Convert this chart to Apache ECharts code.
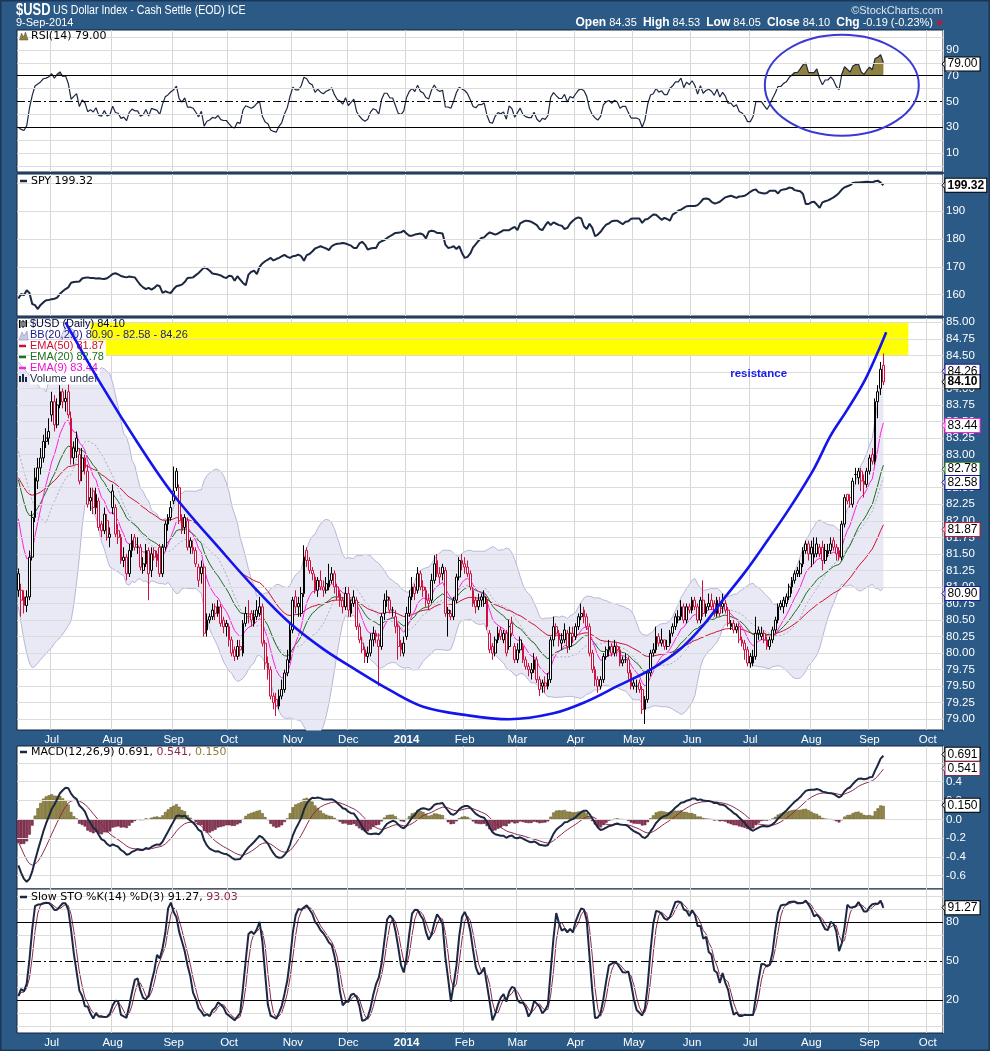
<!DOCTYPE html>
<html><head><meta charset="utf-8">
<script src="https://cdn.jsdelivr.net/npm/echarts@6/dist/echarts.min.js"></script>
<style>html,body{margin:0;padding:0;background:#2b5a86;}#c{width:990px;height:1051px;}</style>
</head><body><div id="c"></div>
<script>
// ---------- DATA ----------
const holidays = ['2013-07-04','2013-09-02','2013-11-28','2013-12-25','2014-01-01','2014-01-20','2014-02-17','2014-04-18','2014-05-26','2014-07-04','2014-09-01'];
const monthNames = ['Jan','Feb','Mar','Apr','May','Jun','Jul','Aug','Sep','Oct','Nov','Dec'];

const usdOpen = [81.20,80.95,80.85,80.72,80.85,81.45,82.05,82.60,82.80,82.95,
83.20,83.25,83.80,83.80,83.45,83.75,83.95,83.80,83.95,83.55,
82.95,83.05,83.00,82.75,82.95,82.75,82.30,82.45,82.20,82.30,
81.95,81.85,82.00,81.75,82.45,82.20,81.85,81.75,81.40,81.45,
81.20,81.55,81.75,81.60,81.60,81.25,81.35,81.55,81.25,81.55,
81.50,81.60,81.20,81.60,81.95,82.05,82.45,82.75,82.50,82.05,
81.90,82.00,81.70,81.60,81.55,81.30,81.20,81.30,80.35,80.50,
80.55,80.70,80.60,80.70,80.50,80.45,80.40,80.20,80.05,79.95,
80.10,80.00,80.45,80.55,80.60,80.45,80.55,80.60,80.70,80.15,
79.85,79.75,79.35,79.30,79.20,79.35,79.45,79.70,79.90,80.35,
80.85,80.75,80.60,80.90,81.55,81.40,81.25,81.15,80.95,81.10,
81.00,80.95,81.00,81.10,81.20,81.00,80.90,80.80,80.70,80.90,
80.60,80.75,80.80,80.40,80.15,80.05,79.95,80.00,80.20,80.30,
80.20,80.10,80.60,80.85,80.80,80.65,80.55,80.40,80.15,80.00,
80.25,80.60,80.85,81.00,80.95,81.20,81.00,80.95,80.80,80.80,
81.10,81.40,81.20,81.30,81.25,80.65,80.60,80.55,80.80,81.15,
81.40,81.35,81.30,81.20,80.95,80.80,80.70,80.85,80.75,80.80,
80.30,80.10,80.00,80.20,80.35,80.20,80.30,80.10,80.45,80.10,
79.90,80.05,80.10,79.90,79.80,79.70,79.75,79.90,79.60,79.50,
79.55,79.50,79.60,80.20,80.40,80.30,80.15,80.20,80.30,80.10,
80.30,80.25,80.40,80.55,80.65,80.55,80.40,80.00,79.75,79.60,
79.50,79.60,79.95,80.05,80.10,80.00,80.10,80.05,79.85,79.90,
79.90,79.70,79.55,79.50,79.55,79.45,79.15,79.30,79.70,80.00,
80.05,80.25,80.15,80.20,80.10,80.15,80.30,80.40,80.50,80.55,
80.70,80.50,80.70,80.65,80.80,80.70,80.50,80.80,80.60,80.70,
80.80,80.75,80.60,80.75,80.70,80.75,80.65,80.40,80.45,80.35,
80.40,80.20,80.15,80.05,79.95,79.85,79.95,80.35,80.25,80.30,
80.20,80.10,80.20,80.35,80.50,80.75,80.70,80.75,80.85,81.00,
81.10,81.25,81.20,81.35,81.55,81.65,81.60,81.45,81.50,81.60,
81.60,81.40,81.50,81.55,81.70,81.60,81.55,81.45,81.95,82.40,
82.35,82.25,82.70,82.65,82.75,82.60,82.55,82.75,83.00,82.90,
83.80,84.00,84.35];
const usdHigh = [81.28,81.05,80.95,80.95,81.55,82.15,82.80,82.95,83.10,83.30,
83.40,83.55,83.95,83.90,83.85,84.05,84.00,83.98,84.07,83.65,
83.20,83.35,83.10,83.10,83.00,82.85,82.50,82.50,82.50,82.35,
82.00,82.20,82.10,81.90,82.55,82.25,81.95,81.80,81.60,81.50,
81.65,81.80,81.80,81.75,81.65,81.45,81.65,81.60,81.60,81.60,
81.55,81.65,81.65,82.00,82.10,82.30,82.82,82.80,82.55,82.10,
82.10,82.05,81.75,81.70,81.60,81.35,81.40,81.35,80.60,80.60,
80.75,80.75,80.80,80.75,80.55,80.50,80.45,80.25,80.10,80.20,
80.20,80.50,80.70,80.80,80.65,80.65,80.80,80.85,80.75,80.20,
79.95,79.80,79.40,79.40,79.45,79.60,79.75,80.05,80.45,80.85,
80.95,80.85,81.00,81.63,81.60,81.45,81.30,81.20,81.15,81.25,
81.10,81.15,81.35,81.30,81.25,81.05,80.95,80.85,81.00,81.00,
80.80,80.95,80.85,80.45,80.25,80.10,80.10,80.30,80.40,80.35,
80.30,80.60,80.90,80.95,80.85,80.70,80.65,80.45,80.20,80.25,
80.70,80.95,81.15,81.05,81.30,81.25,81.10,81.00,80.90,81.20,
81.48,81.50,81.30,81.35,81.30,80.70,80.65,80.85,81.20,81.45,
81.50,81.45,81.40,81.25,81.00,80.85,80.90,80.90,80.95,80.85,
80.35,80.15,80.25,80.40,80.40,80.35,80.35,80.50,80.55,80.15,
80.15,80.25,80.15,79.95,79.85,79.85,80.00,79.95,79.65,79.60,
79.65,79.70,80.25,80.55,80.45,80.35,80.30,80.45,80.35,80.40,
80.40,80.45,80.60,80.75,80.70,80.60,80.45,80.05,79.80,79.65,
79.65,80.00,80.10,80.20,80.15,80.20,80.15,80.10,79.95,80.00,
79.95,79.75,79.60,79.60,79.60,79.50,79.35,79.75,80.05,80.15,
80.40,80.30,80.37,80.20,80.20,80.35,80.45,80.60,80.65,80.80,
80.75,80.75,80.75,80.85,80.85,80.75,80.85,81.10,80.75,80.90,
80.90,80.80,80.85,80.85,80.90,80.80,80.70,80.50,80.50,80.45,
80.45,80.25,80.20,80.10,80.00,80.05,80.55,80.40,80.40,80.35,
80.25,80.25,80.40,80.55,80.75,80.80,80.85,80.90,81.05,81.15,
81.25,81.30,81.40,81.60,81.70,81.70,81.70,81.75,81.75,81.65,
81.70,81.65,81.65,81.75,81.75,81.65,81.60,82.00,82.40,82.40,
82.40,82.65,82.80,82.80,82.80,82.70,82.80,83.00,83.10,83.85,
84.05,84.40,84.53];
const usdLow = [80.85,80.55,80.60,80.62,80.80,81.40,81.98,82.48,82.70,82.88,
83.10,83.15,83.50,83.35,83.40,83.70,83.70,83.65,83.55,82.85,
82.85,82.95,82.55,82.60,82.70,82.20,82.15,82.10,82.10,81.85,
81.75,81.80,81.70,81.60,82.10,81.75,81.65,81.35,81.30,81.10,
81.15,81.45,81.55,81.50,81.25,81.20,81.30,80.80,81.15,81.40,
81.30,81.15,81.15,81.55,81.85,82.00,82.25,82.45,81.95,81.80,
81.80,81.55,81.50,81.50,81.30,81.00,81.05,80.25,80.25,80.45,
80.50,80.50,80.55,80.40,80.30,80.25,80.10,79.95,79.88,79.90,
79.95,79.95,80.40,80.45,80.40,80.40,80.50,80.55,80.10,79.75,
79.60,79.30,79.15,79.05,79.15,79.30,79.40,79.65,79.85,80.30,
80.60,80.55,80.55,80.85,81.30,81.20,81.10,80.90,80.85,80.95,
80.85,80.90,80.95,81.05,80.90,80.80,80.70,80.60,80.65,80.55,
80.55,80.70,80.35,80.15,80.00,79.85,79.85,79.95,80.10,80.15,
79.50,80.05,80.50,80.70,80.60,80.55,80.30,79.90,79.95,79.95,
80.20,80.55,80.80,80.80,80.90,80.95,80.85,80.70,80.65,80.75,
81.05,81.15,81.05,81.10,80.55,80.25,80.50,80.50,80.75,81.10,
81.25,81.20,81.15,80.95,80.70,80.60,80.65,80.70,80.70,80.35,
80.00,79.90,79.95,80.15,80.20,80.15,79.95,80.05,80.25,79.85,
79.85,80.00,79.85,79.75,79.65,79.60,79.70,79.55,79.35,79.40,
79.40,79.45,79.55,80.10,80.25,80.10,80.05,80.15,80.00,80.05,
80.15,80.20,80.35,80.50,80.45,80.35,79.95,79.70,79.50,79.40,
79.45,79.55,79.90,79.95,79.95,79.95,79.95,79.80,79.80,79.85,
79.60,79.45,79.45,79.40,79.40,79.08,78.93,79.25,79.65,79.95,
80.00,80.10,80.10,80.05,80.05,80.10,80.25,80.35,80.45,80.50,
80.45,80.45,80.60,80.60,80.65,80.45,80.45,80.55,80.55,80.65,
80.65,80.55,80.55,80.55,80.60,80.60,80.40,80.35,80.30,80.30,
80.15,80.10,79.90,79.80,79.78,79.80,79.90,80.20,80.20,80.15,
80.05,80.05,80.15,80.30,80.45,80.65,80.60,80.70,80.80,80.90,
81.05,81.15,81.15,81.30,81.50,81.40,81.30,81.35,81.45,81.45,
81.25,81.35,81.45,81.50,81.55,81.40,81.40,81.40,81.90,82.25,
82.20,82.20,82.55,82.55,82.45,82.35,82.50,82.70,82.85,82.85,
83.55,83.90,84.05];
const usdClose = [80.95,80.80,80.72,80.85,81.45,82.05,82.65,82.80,82.95,83.20,
83.25,83.35,83.60,83.45,83.75,83.95,83.80,83.85,83.60,82.95,
83.10,83.25,82.60,82.95,82.80,82.25,82.35,82.20,82.40,81.90,
81.85,82.10,81.75,81.80,82.20,81.80,81.75,81.40,81.45,81.20,
81.55,81.70,81.60,81.60,81.30,81.35,81.55,81.20,81.50,81.45,
81.40,81.20,81.60,81.95,82.05,82.20,82.30,82.50,82.00,81.85,
82.05,81.60,81.60,81.55,81.35,81.10,81.30,80.30,80.50,80.55,
80.65,80.60,80.70,80.45,80.40,80.40,80.20,80.00,79.95,80.10,
80.05,80.45,80.60,80.55,80.50,80.55,80.65,80.70,80.15,79.85,
79.75,79.35,79.25,79.20,79.35,79.45,79.70,79.90,80.35,80.80,
80.70,80.70,80.90,81.45,81.40,81.25,81.20,80.95,81.10,81.00,
80.95,81.05,81.10,81.20,81.00,80.85,80.80,80.70,80.90,80.65,
80.75,80.85,80.40,80.20,80.05,79.95,80.00,80.20,80.30,80.25,
80.10,80.55,80.80,80.80,80.65,80.65,80.40,80.10,80.05,80.15,
80.60,80.85,81.00,80.90,81.20,81.00,80.95,80.80,80.75,81.10,
81.35,81.20,81.15,81.20,80.60,80.60,80.55,80.80,81.15,81.40,
81.35,81.30,81.20,81.00,80.75,80.70,80.80,80.80,80.85,80.40,
80.05,80.00,80.20,80.30,80.25,80.30,80.00,80.40,80.30,79.90,
80.05,80.20,79.90,79.80,79.75,79.75,79.90,79.60,79.45,79.55,
79.50,79.60,80.20,80.40,80.30,80.20,80.20,80.35,80.10,80.30,
80.25,80.40,80.55,80.60,80.55,80.40,80.00,79.75,79.60,79.50,
79.60,79.95,80.05,80.10,80.00,80.10,80.05,79.85,79.90,79.90,
79.70,79.50,79.50,79.50,79.45,79.15,79.30,79.70,80.00,80.05,
80.25,80.15,80.20,80.10,80.10,80.30,80.40,80.55,80.55,80.70,
80.50,80.70,80.65,80.80,80.70,80.50,80.80,80.60,80.70,80.75,
80.70,80.60,80.80,80.60,80.75,80.65,80.45,80.45,80.35,80.40,
80.20,80.15,80.05,79.85,79.85,79.95,80.30,80.30,80.30,80.20,
80.10,80.20,80.35,80.50,80.70,80.70,80.80,80.85,81.00,81.10,
81.20,81.20,81.35,81.55,81.65,81.50,81.50,81.50,81.65,81.50,
81.40,81.55,81.55,81.65,81.60,81.50,81.45,81.95,82.35,82.30,
82.25,82.60,82.70,82.75,82.60,82.55,82.75,82.95,82.90,83.80,
83.95,84.29,84.10];
const spyClose = [158.6,160.2,159.8,161.6,160.6,156.6,156.2,154.8,156.3,157.2,
158.0,158.1,158.3,158.5,158.9,160.3,161.2,162.0,162.6,164.3,
164.5,164.6,164.7,165.8,166.1,166.2,166.0,166.0,165.8,165.9,
165.7,165.6,165.9,166.6,167.4,167.7,167.3,166.7,166.4,166.2,
166.5,166.3,166.2,164.8,163.5,162.6,162.0,162.4,161.8,162.4,
163.4,163.0,160.6,161.2,160.8,160.6,162.0,163.0,163.3,163.6,
164.5,166.0,166.1,166.2,167.0,167.8,168.8,169.8,169.4,168.6,
167.6,167.4,167.2,166.9,166.3,166.0,166.8,166.6,165.0,166.6,
165.4,164.2,163.4,167.2,168.2,168.6,167.4,170.0,171.2,172.0,
172.6,173.2,172.3,172.8,173.2,173.8,174.3,173.6,173.2,173.8,
174.0,174.4,173.8,172.2,174.2,174.6,175.5,176.6,177.0,177.4,
177.0,176.6,176.0,177.4,178.0,178.3,178.4,178.6,178.4,178.0,
177.6,176.8,176.8,178.4,179.0,178.0,176.2,176.6,176.8,176.8,
178.6,179.2,179.6,180.4,181.0,181.6,182.2,182.3,182.4,183.0,
182.0,181.2,181.2,181.6,181.8,182.0,181.6,180.2,182.6,183.0,
182.8,182.2,182.2,182.0,178.0,176.8,177.0,177.4,176.4,177.4,
175.0,173.2,173.6,174.8,177.0,178.2,179.4,180.4,180.6,181.6,
182.4,182.0,181.6,182.0,182.6,183.2,183.2,183.2,183.8,184.4,
183.2,185.6,186.2,186.6,186.5,186.2,185.6,185.0,183.6,183.2,
184.8,186.2,185.0,186.0,185.5,185.0,184.8,183.6,184.0,185.6,
186.6,187.4,187.8,187.4,184.6,183.6,185.5,184.0,181.0,181.6,
182.6,184.0,185.2,185.6,186.4,186.6,186.6,186.0,185.3,186.2,
186.4,187.3,187.4,187.4,187.4,185.8,187.0,187.2,188.0,188.8,
188.7,187.8,186.9,187.6,187.2,186.6,188.8,189.4,190.2,190.6,
191.2,191.8,191.9,191.9,191.9,192.2,193.2,194.4,194.6,194.4,
193.4,192.8,193.0,193.4,194.2,195.0,195.3,195.6,195.2,194.8,
195.3,195.4,195.6,196.2,197.0,197.6,197.8,196.8,196.6,196.4,
196.6,197.4,197.4,197.4,196.4,197.6,197.8,198.0,198.5,198.4,
197.6,197.4,197.2,196.2,192.6,192.6,193.2,193.4,192.4,191.2,
193.2,193.6,193.9,194.4,195.0,195.7,196.6,197.8,198.6,199.0,
199.4,200.2,200.3,200.3,200.4,200.5,200.6,200.5,200.4,200.8,
201.0,200.3,199.32];

// indicator states at the first visible days
const ema50Start = 82.65, ema20Start = 82.62, ema9Start = 82.03;
const ema12Start = 82.26, ema26Start = 82.75, signalStart = -0.24;
const rsiGainStart = 0.06, rsiLossStart = 0.14;
const bbUpperEarly = [84.4,84.35,84.3,84.25,84.2,84.15,84.1,84.05,84.0,84.0];
const bbMidEarly   = [83.05,82.9,82.75,82.6,82.45,82.3,82.2,82.1,82.05,82.0];
const bbLowerEarly = [80.7,80.45,80.2,80.0,79.85,79.78,79.8,79.85,79.9,79.95];

// hand-drawn "cup" annotation anchor points [day index, price]
const cupPoints = [[17,85.0],[30,84.05],[43,83.18],[56,82.39],[74,81.51],[86,80.95],[98,80.45],[110,80.06],[122,79.74],[134,79.44],[146,79.19],[162,79.06],[177,79.0],[193,79.09],[205,79.27],[216,79.5],[228,79.75],[239,80.07],[247,80.42],[255,80.85],[262,81.22],[269,81.63],[278,82.18],[287,82.79],[293,83.29],[299,83.68],[305,84.10],[310,84.55],[313,84.85]];

// text
const titleMain = '$USD', titleSub = 'US Dollar Index - Cash Settle (EOD) ICE', titleDate = '9-Sep-2014';
const ohlcText = '{b|Open} 84.35  {b|High} 84.53  {b|Low} 84.05  {b|Close} 84.10  {b|Chg} -0.19 (-0.23%)';

// ---------- BUILD ----------
const N = usdClose.length;
const NT = 334;
const dates = [];
{ let t = Date.UTC(2013,5,13);
  while (dates.length < NT) { const d = new Date(t); const wd = d.getUTCDay(); const s = d.toISOString().slice(0,10);
    if (wd !== 0 && wd !== 6 && holidays.indexOf(s) < 0) dates.push(s); t += 86400000; } }
const monthStart = new Set();
for (let i = 1; i < dates.length; i++) if (dates[i].slice(5,7) !== dates[i-1].slice(5,7)) monthStart.add(i);

function pad(a){ const o = a.slice(); while (o.length < NT) o.push(null); return o; }
function emaSeed(arr, n, seed){ const a = 2/(n+1); const o = []; let e = seed; for (let i=0;i<arr.length;i++){ if (i>0) e = e + a*(arr[i]-e); o.push(e);} return o; }
const ema50 = emaSeed(usdClose,50,ema50Start), ema20 = emaSeed(usdClose,20,ema20Start), ema9 = emaSeed(usdClose,9,ema9Start);
const e12 = emaSeed(usdClose,12,ema12Start), e26 = emaSeed(usdClose,26,ema26Start);
const macd = e12.map((v,i)=>v-e26[i]);
const signal = emaSeed(macd,9,signalStart);
const hist = macd.map((v,i)=>v-signal[i]);
const rsi = []; { let g = rsiGainStart, l = rsiLossStart; rsi.push(100-100/(1+g/l));
  for (let i=1;i<N;i++){ const ch = usdClose[i]-usdClose[i-1]; g = (g*13+Math.max(ch,0))/14; l = (l*13+Math.max(-ch,0))/14; rsi.push(100-100/(1+g/l)); } }
const bbMid=[], bbUp=[], bbLo=[];
for (let i=0;i<N;i++){
  if (i < bbUpperEarly.length){ bbMid.push(bbMidEarly[i]); bbUp.push(bbUpperEarly[i]); bbLo.push(bbLowerEarly[i]); continue; }
  const s = Math.max(0,i-19); const w = usdClose.slice(s,i+1); const m = w.reduce((a,b)=>a+b,0)/w.length;
  const sd = Math.sqrt(w.reduce((a,b)=>a+(b-m)*(b-m),0)/w.length); bbMid.push(m); bbUp.push(m+2*sd); bbLo.push(m-2*sd); }
const fastK = []; for (let i=0;i<N;i++){ const s=Math.max(0,i-13); const hh=Math.max(...usdHigh.slice(s,i+1)); const ll=Math.min(...usdLow.slice(s,i+1)); fastK.push(hh>ll?(usdClose[i]-ll)/(hh-ll)*100:50); }
function sma(a,n){ return a.map((v,i)=>{ const w=a.slice(Math.max(0,i-n+1),i+1); return w.reduce((x,y)=>x+y,0)/w.length; }); }
const slowK = sma(fastK,3), slowD = sma(slowK,3);

// ---------- CHART ----------
const chart = echarts.init(document.getElementById('c'), null, {renderer:'canvas'});
const GL = 17, GR = 47;
const grids = [
  {top:30, height:142}, {top:174, height:142}, {top:318, height:412}, {top:746, height:143}, {top:889, height:144}
].map(g=>Object.assign({left:GL, right:GR, show:true, backgroundColor:'#ffffff', borderColor:'#13223f', borderWidth:1}, g));
const yRanges = [[-4.65,105.4],[152.3,203.4],[78.838,85.065],[-0.741,0.78],[-5.15,105.6]];
const FONT = 'Liberation Sans, Arial, sans-serif';
const LEG = 'DejaVu Sans, Verdana, sans-serif';
function xa(gi, showLabel){
  return { type:'category', gridIndex:gi, data:dates, boundaryGap:true,
    axisLine:{show:false}, axisTick:{show:false},
    axisLabel:{show:showLabel, interval:(i)=>monthStart.has(i), margin:4, color:'#ffffff', fontSize:11.5, fontFamily:FONT,
      formatter:(v)=>{ const m=+v.slice(5,7); return m===1 ? '{y|'+v.slice(0,4)+'}' : monthNames[m-1]; },
      rich:{y:{fontWeight:'bold', color:'#ffffff', fontSize:11.5, fontFamily:FONT}} },
    splitLine:{show:true, interval:(i)=>monthStart.has(i), lineStyle:{color:'#d6d6d6', width:1}} };
}
const xAxes = [0,1,2,3,4].map(i=>xa(i, i===2||i===4));
const yAxes = yRanges.map((r,i)=>({type:'value', gridIndex:i, position:'right', min:r[0], max:r[1], scale:true,
  axisLine:{show:false}, axisTick:{show:false}, axisLabel:{show:false}, splitLine:{show:false}}));

const GRIDC = '#dcdcdc';
const dashDot = [8,3,2,3];
function gridSeries(gi, vals, styleFn){
  return {type:'line', xAxisIndex:gi, yAxisIndex:gi, data:[], silent:true, z:1, clip:false,
    markLine:{silent:true, symbol:['none','none'], animation:false, label:{show:false},
      data: vals.map(v=>({yAxis:v, lineStyle:styleFn(v)}))}};
}
const light = {color:GRIDC, width:1, type:'solid'};
const rsiVals=[0,10,20,30,40,50,60,70,80,90,100];
const oscStyle = (v)=> v===70||v===30 ? {color:'#000',width:1,type:'solid'} : v===50 ? {color:'#000',width:1,type:dashDot} : light;
const stoStyle = (v)=> v===80||v===20 ? {color:'#000',width:1,type:'solid'} : v===50 ? {color:'#000',width:1,type:dashDot} : light;
const mainVals=[]; for (let k=0;k<=24;k++) mainVals.push(+(79+k*0.25).toFixed(2));

const candleData = [];
for (let i=0;i<N;i++){
  const up = i===0 || usdClose[i] >= usdClose[i-1];
  const col = up ? '#000000' : '#cc1040';
  candleData.push({value:[usdOpen[i],usdClose[i],usdLow[i],usdHigh[i]],
    itemStyle:{color:'#ffffff', color0:col, borderColor:col, borderColor0:col, borderWidth:1}});
}
const histData = hist.map(v=>({value:v, itemStyle: v>=0 ? {color:'#978a45', borderColor:'#5c5424', borderWidth:0.5} : {color:'#8d3556', borderColor:'#5a1d35', borderWidth:0.5}}));

const lineS = (gi, data, color, width, extra)=>Object.assign({type:'line', xAxisIndex:gi, yAxisIndex:gi, data:pad(data), symbol:'none', silent:true, animation:false,
  lineStyle:{color, width}}, extra||{});

const series = [
  gridSeries(0, rsiVals, oscStyle),
  lineS(0, rsi.map(()=>70), 'transparent', 0, {stack:'rsi', z:2}),
  lineS(0, rsi.map(v=>Math.max(v-70,0)), 'transparent', 0, {stack:'rsi', z:2, areaStyle:{color:'#8f8140', opacity:1}}),
  lineS(0, rsi, '#1c2742', 1.2, {z:4}),
  gridSeries(1, [160,170,180,190,200], ()=>light),
  lineS(1, spyClose, '#1c2742', 2, {z:4}),
  gridSeries(2, mainVals, ()=>light),
  {type:'line', xAxisIndex:2, yAxisIndex:2, data:[], silent:true, z:2,
    markArea:{silent:true, animation:false, itemStyle:{color:'#ffff00', opacity:1}, data:[[{coord:[26,84.5]},{coord:[321,85.0]}]]}},
  lineS(2, bbLo, '#b6b6da', 1, {stack:'bb', z:3}),
  lineS(2, bbUp.map((v,i)=>v==null?null:v-bbLo[i]), '#b6b6da', 1, {stack:'bb', z:3, areaStyle:{color:'#e9e9f5', opacity:1}}),
  lineS(2, bbMid, '#a9a9c6', 1, {z:3, lineStyle:{color:'#a9a9c6', width:1, type:[2,2]}}),
  lineS(2, ema50, '#cc1133', 1, {z:4}),
  lineS(2, ema20, '#1d6e1d', 1, {z:4}),
  lineS(2, ema9, '#ff22dd', 1, {z:4}),
  {type:'candlestick', xAxisIndex:2, yAxisIndex:2, data:candleData, barWidth:2.3, z:5, silent:true, animation:false},
  {type:'line', xAxisIndex:2, yAxisIndex:2, data:cupPoints, smooth:0.35, symbol:'none', silent:true, z:50, animation:false,
    lineStyle:{color:'#1414ec', width:2.6}},
  gridSeries(3, [-0.6,-0.4,-0.2,0,0.2,0.4,0.6], ()=>light),
  {type:'bar', xAxisIndex:3, yAxisIndex:3, data:pad(histData), barCategoryGap:'0%', z:3, silent:true, animation:false},
  lineS(3, signal, '#8b2a4c', 1, {z:4}),
  lineS(3, macd, '#1c2742', 2, {z:5}),
  gridSeries(4, rsiVals, stoStyle),
  lineS(4, slowD, '#8b2a4c', 1, {z:4}),
  lineS(4, slowK, '#1c2742', 2, {z:5})
];

chart.setOption({animation:false, backgroundColor:'#2b5a86', grid:grids, xAxis:xAxes, yAxis:yAxes, series});

// ---------- TEXT / LABELS (positions through the chart's scales) ----------
const G = [];
function yPix(gi, v){ return chart.convertToPixel({yAxisIndex:gi}, v); }
function plain(gi, v, txt){ G.push({type:'text', z:30, style:{text:txt, x:946, y:yPix(gi,v), verticalAlign:'middle', fill:'#ffffff', font:'11.5px '+FONT}}); }
function boxed(gi, v, txt, border, bold){
  const y = yPix(gi, v);
  G.push({type:'polygon', z:60, shape:{points:[[942,y],[946,y-4.5],[946,y+4.5]]}, style:{fill:'#ffffff', stroke:border, lineWidth:1}});
  G.push({type:'text', z:61, style:{text:txt, x:945.5, y:y, verticalAlign:'middle', fill:'#000000', font:(bold?'bold ':'')+'12px '+FONT,
    backgroundColor:'#ffffff', borderColor:border, borderWidth:1, padding:[1,2,0,2]}});
}
[90,70,50,30,10].forEach(v=>plain(0,v,String(v)));
boxed(0, 79.0, '79.00', '#000000');
[190,180,170,160].forEach(v=>plain(1,v,String(v)));
boxed(1, 199.32, '199.32', '#000000', true);
mainVals.forEach(v=>plain(2,v,v.toFixed(2)));
boxed(2, 84.26, '84.26', '#1a1aa0');
boxed(2, 84.10, '84.10', '#000000', true);
boxed(2, 83.44, '83.44', '#ff22dd');
boxed(2, 82.78, '82.78', '#1d6e1d');
boxed(2, 82.58, '82.58', '#1a1aa0');
boxed(2, 81.87, '81.87', '#cc1133');
boxed(2, 80.90, '80.90', '#1a1aa0');
[0.6,0.4,0.2,0.0,-0.2,-0.4,-0.6].forEach(v=>plain(3,v,v.toFixed(1)));
boxed(3, 0.691, '0.691', '#000000');
boxed(3, 0.541, '0.541', '#8b2a4c');
boxed(3, 0.150, '0.150', '#000000');
[80,50,20].forEach(v=>plain(4,v,String(v)));
boxed(4, 91.27, '91.27', '#000000');

// header
G.push({type:'text', z:50, x:16, y:10, scaleX:0.76, style:{text:titleMain, x:0, y:0, verticalAlign:'middle', fill:'#ffffff', font:'bold 17px '+FONT}});
G.push({type:'text', z:50, x:53, y:10.5, scaleX:0.85, style:{text:titleSub, x:0, y:0, verticalAlign:'middle', fill:'#ffffff', font:'12.5px '+FONT}});
G.push({type:'text', z:50, style:{text:titleDate, x:16, y:23, verticalAlign:'middle', fill:'#ffffff', font:'11px '+FONT}});
G.push({type:'text', z:50, style:{text:'\u00a9StockCharts.com', x:943, y:11, align:'right', verticalAlign:'middle', fill:'#dde5ee', font:'11px '+FONT}});
G.push({type:'text', z:50, style:{text:ohlcText, x:933, y:23, align:'right', verticalAlign:'middle', fill:'#ffffff', font:'11px '+FONT,
  rich:{b:{fontWeight:'bold', fill:'#ffffff', font:'bold 11px '+FONT}}}});
G.push({type:'polygon', z:50, shape:{points:[[936,21],[943,21],[939.5,26]]}, style:{fill:'#cc1133'}});

{ const p = chart.convertToPixel({gridIndex:0}, [297, 62.6]);
  G.push({type:'ellipse', z:40, shape:{cx:p[0], cy:p[1], rx:77, ry:50.5}, style:{fill:null, stroke:'#3a3ad2', lineWidth:2}}); }

{ const p = chart.convertToPixel({gridIndex:2}, [267, 84.22]);
  G.push({type:'text', z:40, style:{text:'resistance', x:p[0], y:p[1], align:'center', verticalAlign:'middle', fill:'#1a1aee', font:'bold 11.5px '+FONT}}); }

function legText(x, y, rich, font){ G.push({type:'text', z:45, style:{x, y, verticalAlign:'middle', font:font, rich:rich.styles, text:rich.text}}); }
function dash(x, y, color, w){ G.push({type:'line', z:46, shape:{x1:x, y1:y, x2:x+7, y2:y}, style:{stroke:color, lineWidth:w||2}}); }
G.push({type:'polygon', z:45, shape:{points:[[19.5,40],[21.5,33],[23.5,37],[25.5,32],[28,40]]}, style:{fill:'#8f8140', stroke:'#5c5424', lineWidth:0.5}});
legText(31, 36, {text:'RSI(14) 79.00', styles:{}}, '11px '+LEG);
dash(20, 181, '#1c2742', 2.5);
legText(31, 181, {text:'SPY 199.32', styles:{}}, '11px '+LEG);
dash(20, 752, '#1c2742', 2.5);
legText(31, 752, {text:'MACD(12,26,9) 0.691, {m|0.541,} {o|0.150}', styles:{m:{fill:'#8b2a4c', font:'11px '+LEG}, o:{fill:'#8c7f3c', font:'11px '+LEG}}}, '11px '+LEG);
dash(20, 897, '#1c2742', 2.5);
legText(31, 897, {text:'Slow STO %K(14) %D(3) 91.27, {m|93.03}', styles:{m:{fill:'#8b2a4c', font:'11px '+LEG}}}, '11px '+LEG);
const mainRows = [
  ['$USD (Daily) 84.10', '#000033', false],
  ['BB(20,2.0) 80.90 - 82.58 - 84.26', '#1a1a8c', false],
  ['EMA(50) 81.87', '#cc1133', true],
  ['EMA(20) 82.78', '#1d6e1d', true],
  ['EMA(9) 83.44', '#ee10cc', true],
  ['Volume undef', '#1c2742', true]
];
mainRows.forEach((r, k)=>{
  const y = 324 + k*11;
  G.push({type:'text', z:45, style:Object.assign({text:r[0], x:30, y:y, verticalAlign:'middle', fill:r[1], font:'11px '+FONT}, r[2]?{backgroundColor:'#ffffff', padding:[0,2,0,0]}:{})});
});
G.push({type:'rect', z:46, shape:{x:19,y:320,width:1.5,height:8}, style:{fill:'#000'}});
G.push({type:'rect', z:46, shape:{x:22,y:321,width:2,height:6}, style:{fill:'#fff', stroke:'#000', lineWidth:1}});
G.push({type:'rect', z:46, shape:{x:25.5,y:320,width:1.5,height:7}, style:{fill:'#000'}});
G.push({type:'polygon', z:46, shape:{points:[[19,340],[22,332],[24,336],[27,331],[28,340]]}, style:{fill:'#c8c8e4', stroke:'#9a9ac8', lineWidth:0.7}});
dash(19, 346, '#cc1133', 2.5);
dash(19, 357, '#1d6e1d', 2.5);
dash(19, 368, '#ff22dd', 2.5);
G.push({type:'rect', z:46, shape:{x:19,y:376,width:2,height:6}, style:{fill:'#1c2742'}});
G.push({type:'rect', z:46, shape:{x:22,y:374,width:2,height:8}, style:{fill:'#1c2742'}});
G.push({type:'rect', z:46, shape:{x:25,y:377,width:2,height:5}, style:{fill:'#1c2742'}});
G.push({type:'rect', z:70, shape:{x:0.5,y:0.5,width:989,height:1050}, style:{fill:null, stroke:'#1b3658', lineWidth:2}});

chart.setOption({graphic: G});
</script>
</body></html>
